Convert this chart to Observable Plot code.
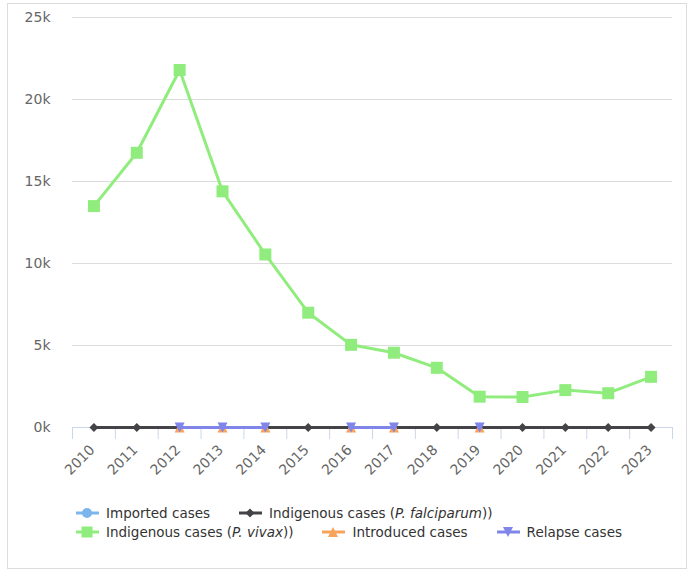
<!DOCTYPE html>
<html><head><meta charset="utf-8">
<script src="https://cdn.jsdelivr.net/npm/d3@7"></script>
<script src="https://cdn.jsdelivr.net/npm/@observablehq/plot@0.6"></script>
<style>
body{margin:0;background:#fff;font-family:"DejaVu Sans",sans-serif;}
#wrap{position:relative;width:693px;height:571px;overflow:hidden;}
#frame{position:absolute;left:7px;top:3px;width:680px;height:566px;border:1px solid #dcdcdc;box-sizing:border-box;}
#chart{position:absolute;left:0;top:0;}
#legend{position:absolute;left:76px;top:504px;font-size:13.5px;color:#333;}
.row{display:flex;height:18.5px;align-items:center;white-space:nowrap}
.item{display:flex;align-items:center;margin-right:29px}
.item svg{margin-right:7px;flex:none}
</style></head>
<body>
<div id="wrap"><div id="frame"></div><div id="chart"></div><div id="legend"></div></div>
<script>
const years = [2010, 2011, 2012, 2013, 2014, 2015, 2016, 2017, 2018, 2019, 2020, 2021, 2022, 2023];
const importedCases = [null, null, null, null, null, null, null, null, null, null, null, null, null, null];
const falciparumCases = [0, 0, 0, 0, 0, 0, 0, 0, 0, 0, 0, 0, 0, 0];
const vivaxCases = [13500, 16750, 21800, 14400, 10550, 7000, 5040, 4560, 3640, 1880, 1860, 2280, 2090, 3090];
const introducedCases = [null, null, 0, 0, 0, null, 0, 0, null, 0, null, null, null, null];
const relapseCases = [null, null, 0, 0, 0, null, 0, 0, null, 0, null, null, null, null];
const yTicks = [0, 5000, 10000, 15000, 20000, 25000];

const seriesNames = ["Imported cases", "Indigenous cases (P. falciparum))", "Indigenous cases (P. vivax))", "Introduced cases", "Relapse cases"];
const seriesColors = ["#7cb5ec", "#434348", "#90ed7d", "#f7a35c", "#8085e9"];

// Highcharts-like marker symbols (r derived from Plot's size)
const mk = (fn) => ({draw(ctx, size){ const r = Math.sqrt(size / Math.PI); fn(ctx, r); }});
const symCircle = mk((c, r) => { c.moveTo(r, 0); c.arc(0, 0, r, 0, 2 * Math.PI); });
const symDiamond = mk((c, r) => { c.moveTo(0, -r); c.lineTo(r, 0); c.lineTo(0, r); c.lineTo(-r, 0); c.closePath(); });
const symSquare = mk((c, r) => { c.rect(-r, -r, 2 * r, 2 * r); });
const symTriangle = mk((c, r) => { c.moveTo(0, -r); c.lineTo(r, r); c.lineTo(-r, r); c.closePath(); });
const symTriangleDown = mk((c, r) => { c.moveTo(-r, -r); c.lineTo(r, -r); c.lineTo(0, r); c.closePath(); });

const seriesData = [importedCases, falciparumCases, vivaxCases, introducedCases, relapseCases];
const seriesSymbols = [symCircle, symDiamond, symSquare, symTriangle, symTriangleDown];
const seriesR = [4, 4.5, 6, 5, 5];
const seriesW = [3, 3, 3, 3, 3];

const tidy = seriesData.map((arr, s) => years.map((yr, i) => ({year: yr, value: arr[i], s})));
const boundaries = years.map(y => y - 0.5).concat([years[years.length - 1] + 0.5]);

const marks = [
  Plot.gridY(yTicks.filter(d => d > 0), {stroke: "#dcdcdc", strokeOpacity: 1, strokeWidth: 1}),
  Plot.axisY(yTicks, {tickSize: 0, tickPadding: 22, tickFormat: d => (d / 1000) + "k", fill: "#666", fontSize: 14, label: null}),
  Plot.ruleY([0], {stroke: "#ccd6eb", strokeWidth: 1}),
  Plot.axisX(boundaries, {tickSize: 12, stroke: "#ccd6eb", strokeOpacity: 1, text: null, label: null}),
  Plot.axisX(years, {tickSize: 0, tickPadding: 20, dx: -1.5, tickRotate: -45, tickFormat: d => String(d), fill: "#666", fontSize: 14, label: null})
];
tidy.forEach((d, s) => {
  marks.push(Plot.line(d, {x: "year", y: "value", stroke: seriesColors[s], strokeWidth: seriesW[s], curve: "linear"}));
  marks.push(Plot.dot(d, {x: "year", y: "value", fill: seriesColors[s], stroke: "none", r: seriesR[s], symbol: seriesSymbols[s]}));
});

const chart = Plot.plot({
  width: 693, height: 490,
  marginLeft: 72, marginRight: 21, marginTop: 17, marginBottom: 63,
  style: {fontFamily: "DejaVu Sans, sans-serif", fontSize: "14px", background: "transparent", overflow: "visible"},
  x: {type: "linear", domain: [boundaries[0], boundaries[boundaries.length - 1]], axis: null},
  y: {type: "linear", domain: [yTicks[0], yTicks[yTicks.length - 1]], axis: null},
  marks
});
document.getElementById("chart").appendChild(chart);

// legend
const legendRows = [[0, 1], [2, 3, 4]];
const symPaths = [
  '<circle cx="11" cy="8" r="5"/>',
  '<path d="M11 3.5 L15.5 8 L11 12.5 L6.5 8Z"/>',
  '<rect x="5.5" y="2.5" width="11" height="11"/>',
  '<path d="M11 3 L16 13 L6 13Z"/>',
  '<path d="M6 3 L16 3 L11 13Z"/>'
];
const fmtName = (s) => {
  if (s === 1) return 'Indigenous cases (<i>P. falciparum</i>))';
  if (s === 2) return 'Indigenous cases (<i>P. vivax</i>))';
  return seriesNames[s];
};
const leg = document.getElementById("legend");
legendRows.forEach(row => {
  const r = document.createElement("div"); r.className = "row";
  row.forEach(s => {
    const it = document.createElement("div"); it.className = "item";
    it.innerHTML = `<svg width="23" height="16"><line x1="0" x2="23" y1="8" y2="8" stroke="${seriesColors[s]}" stroke-width="3"/><g fill="${seriesColors[s]}">${symPaths[s]}</g></svg><span>${fmtName(s)}</span>`;
    r.appendChild(it);
  });
  leg.appendChild(r);
});
</script>
</body></html>
